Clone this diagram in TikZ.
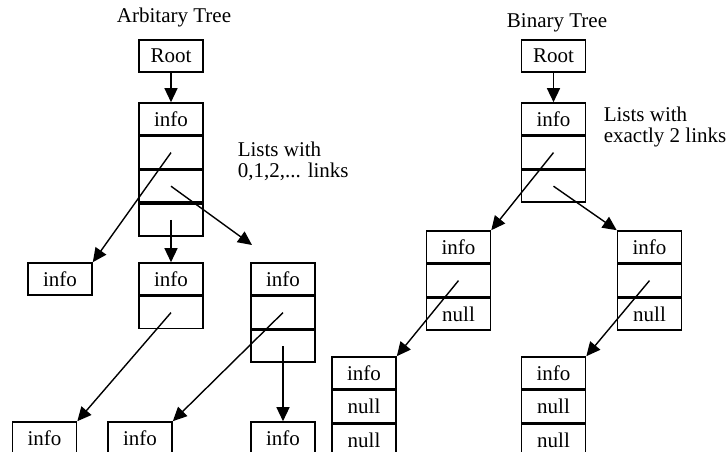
\documentclass[tikz,border=0pt]{standalone}
\usepackage{fontspec}
\setmainfont{Liberation Serif}
\usetikzlibrary{arrows.meta,positioning}

\begin{document}
\begin{tikzpicture}[x=1pt, y=-1pt, line width=1.6pt,
  cell/.style={draw, minimum width=64pt, minimum height=32pt, inner sep=0pt,
               font=\fontsize{21}{22}\selectfont},
  link/.style={-{Triangle[length=14pt,width=13pt]}, line width=1.4pt},
  note/.style={font=\fontsize{21}{21}\selectfont, align=left, inner sep=0pt}]
\useasboundingbox (0,0) rectangle (728,452);

% general tree: each node keeps a list of links
\node[font=\fontsize{21}{22}\selectfont] (ttl) at (174,17) {Arbitary Tree};
\node[cell] (root) at (171,56) {Root};
\node[cell] (a0) at (171,119) {info};
\node[cell, below=0pt of a0] (a1) {};
\node[cell, below=0pt of a1] (a2) {};
\node[cell, below=0pt of a2] (a3) {};
\node[note, anchor=west] (lst) at (237,161) {Lists with\\0,1,2,... links};

\node[cell] (b) at (60,279) {info};
\node[cell] (c0) at (171,279) {info};
\node[cell, below=0pt of c0] (c1) {};
\node[cell] (d0) at (283,279) {info};
\node[cell, below=0pt of d0] (d1) {};
\node[cell, below=0pt of d1] (d2) {};
\coordinate (dtip) at (252,245);

\node[cell] (e) at (44.5,438) {info};
\node[cell] (f) at (140,438) {info};
\node[cell] (g) at (283,438) {info};

\draw[link] (root.south) -- (a0.north);
\draw[link] (a1.center) -- (b.north east);
\draw[link] (a2.center) -- (dtip);
\draw[link] (a3.center) -- (c0.north);
\draw[link] (c1.center) -- (e.north east);
\draw[link] (d1.center) -- (f.north east);
\draw[link] (d2.center) -- (g.north);

% binary tree: two links per node
\node[font=\fontsize{21}{22}\selectfont] (ttr) at (557,23) {Binary Tree};
\node[cell] (root2) at (553.5,56) {Root};
\node[cell] (p0) at (553.5,119) {info};
\node[cell, below=0pt of p0] (p1) {};
\node[cell, below=0pt of p1] (p2) {};
\node[note, anchor=west] (lsb) at (603,127) {Lists with\\exactly 2 links};

\node[cell] (q0) at (458.5,247) {info};
\node[cell, below=0pt of q0] (q1) {};
\node[cell, below=0pt of q1] (q2) {null};
\node[cell] (r0) at (649.5,247) {info};
\node[cell, below=0pt of r0] (r1) {};
\node[cell, below=0pt of r1] (r2) {null};

\node[cell] (s0) at (364,373) {info};
\node[cell, below=0pt of s0] (s1) {null};
\node[cell, below=0pt of s1] (s2) {null};
\node[cell] (t0) at (553.5,373) {info};
\node[cell, below=0pt of t0] (t1) {null};
\node[cell, below=0pt of t1] (t2) {null};

\draw[link] (root2.south) -- (p0.north);
\draw[link] (p1.center) -- (q0.north east);
\draw[link] (p2.center) -- (r0.north west);
\draw[link] (q1.center) -- (s0.north east);
\draw[link] (r1.center) -- (t0.north east);
\end{tikzpicture}
\end{document}
